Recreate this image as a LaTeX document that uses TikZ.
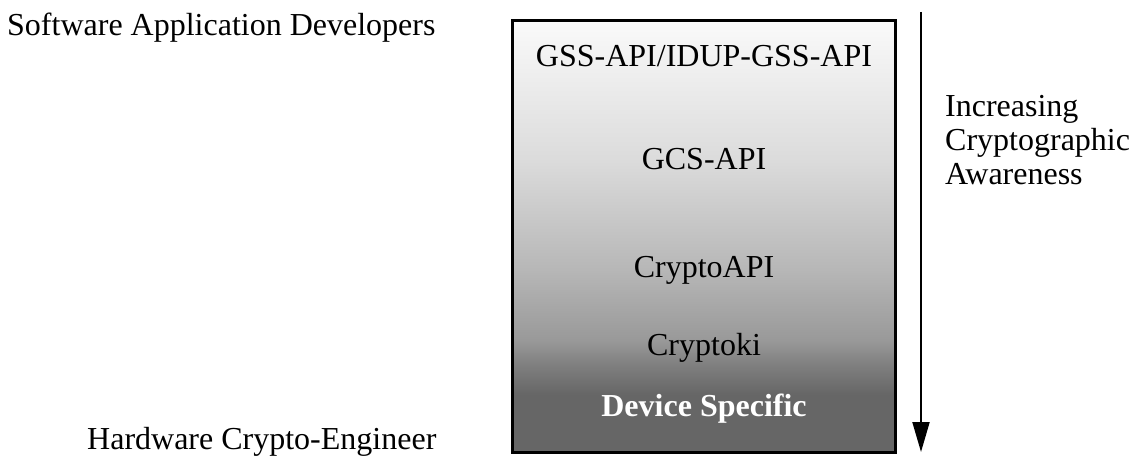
\documentclass[tikz,border=0pt]{standalone}
\usepackage{fontspec}
\setmainfont{Liberation Serif}
\usetikzlibrary{arrows.meta}

% Light-to-dark fill of the API stack (the middle 25bp..75bp spans the box)
\pgfdeclareverticalshading{stackfade}{100bp}{%
  rgb(0bp)=(0.40,0.40,0.40);
  rgb(25bp)=(0.40,0.40,0.40);
  rgb(31.7bp)=(0.40,0.40,0.40);
  rgb(35.2bp)=(0.50,0.50,0.50);
  rgb(38bp)=(0.60,0.60,0.60);
  rgb(46.4bp)=(0.72,0.72,0.72);
  rgb(58.8bp)=(0.86,0.86,0.86);
  rgb(75bp)=(0.98,0.98,0.98);
  rgb(100bp)=(0.98,0.98,0.98)}

\begin{document}
\begin{tikzpicture}[x=1pt,y=-1pt,
  every node/.style={font=\fontsize{32}{34}\selectfont, inner sep=0pt},
  stackbox/.style={draw, line width=3pt, shading=stackfade,
    minimum width=383pt, minimum height=432pt},
  layer/.style={anchor=base},
  sidelabel/.style={anchor=base west},
  awareness/.style={line width=2pt, -{Triangle[width=17pt,length=30pt]}}]
\useasboundingbox (0,0) rectangle (1133,457);

% the API stack
\node[stackbox] (stack) at (704,236.5) {};
\node[layer] (gss)    at (704,67)  {GSS-API/IDUP-GSS-API};
\node[layer] (gcs)    at (704,170) {GCS-API};
\node[layer] (capi)   at (704,278) {CryptoAPI};
\node[layer] (cki)    at (704,355) {Cryptoki};
\node[layer, text=white, font=\fontsize{32}{34}\selectfont\bfseries]
             (device) at (704,416) {Device Specific};

% audiences at either end of the stack
\node[sidelabel] (sw) at (7,36)  {Software Application Developers};
\node[sidelabel] (hw) at (87,449) {Hardware Crypto-Engineer};

% direction of increasing awareness
\coordinate (arrowtop) at (921,12);
\coordinate (arrowtip) at (921,452);
\draw[awareness] (arrowtop) -- (arrowtip);
\node[sidelabel, align=left] (aware) at (945,185)
  {Increasing\\Cryptographic\\Awareness};
\end{tikzpicture}
\end{document}
